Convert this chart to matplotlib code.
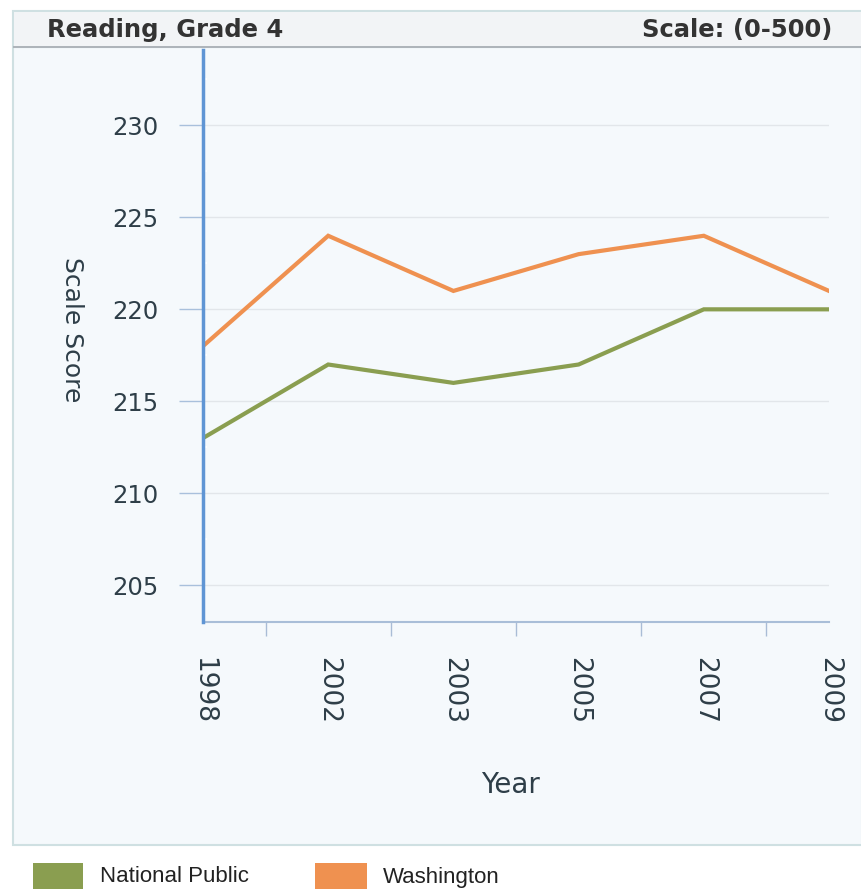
import matplotlib
matplotlib.use("Agg")
import matplotlib.pyplot as plt
from matplotlib.patches import Rectangle
from matplotlib.font_manager import FontProperties, findfont
import numpy as np

years = ["1998", "2002", "2003", "2005", "2007", "2009"]
national_public = [213, 217, 216, 217, 220, 220]
washington = [218, 224, 221, 223, 224, 221]
y_ticks = [205, 210, 215, 220, 225, 230]

W, H = 862, 889
fig = plt.figure(figsize=(W / 100, H / 100), dpi=100)
fig.patch.set_facecolor("white")

def fx(px):
    return px / W

def fy(py):
    return 1 - py / H

# panel background
fig.patches.append(Rectangle((fx(13), fy(845)), fx(862 - 13), (845 - 11) / H,
                             transform=fig.transFigure, facecolor="#F5F9FC",
                             edgecolor="#CFE0E2", linewidth=1.5, zorder=-2))
# header band
fig.patches.append(Rectangle((fx(14), fy(46)), fx(862 - 14), (46 - 12) / H,
                             transform=fig.transFigure, facecolor="#F2F4F6",
                             edgecolor="none", zorder=-1))
fig.add_artist(plt.Line2D([fx(14), 1], [fy(47), fy(47)], transform=fig.transFigure,
                          color="#AEB4BA", linewidth=1.5, zorder=-1))

fig.text(fx(47), fy(30), "Reading, Grade 4", fontsize=17.5, fontweight="bold",
         color="#333333", ha="left", va="center", family="DejaVu Sans")
fig.text(fx(832), fy(30), "Scale: (0-500)", fontsize=17.5, fontweight="bold",
         color="#333333", ha="right", va="center", family="DejaVu Sans")

ax = fig.add_axes([fx(203), fy(622), fx(829 - 203), (622 - 50) / H])
ax.set_facecolor("none")
x = np.arange(len(years))
ax.plot(x, national_public, color="#8A9E50", linewidth=3, solid_joinstyle="miter", zorder=3)
ax.plot(x, washington, color="#EF9150", linewidth=3, solid_joinstyle="miter", zorder=3)
ax.set_xlim(0, len(years) - 1)
ax.set_ylim(203, 234.1)

ax.set_yticks(y_ticks)
ax.set_yticklabels([str(v) for v in y_ticks], fontsize=17.5, color="#2E3E48")
ax.set_yticks([v + 2.5 for v in y_ticks], minor=True)
ax.tick_params(axis="y", which="major", length=17, width=1, color="#A9C0DC", pad=15)
ax.tick_params(axis="y", which="minor", length=3, width=1.5, color="white", direction="in")
ax.grid(axis="y", which="major", color="#E2E6EA", linewidth=1)

ax.set_xticks(x)
ax.set_xticklabels(years, rotation=-90, fontsize=19, color="#2E3E48", va="top", ha="center")
ax.set_xticks(x[:-1] + 0.5, minor=True)
ax.tick_params(axis="x", which="major", length=0, pad=25)
ax.tick_params(axis="x", which="minor", length=10, width=1, color="#A9BCD6")

for s in ["top", "right"]:
    ax.spines[s].set_visible(False)
ax.spines["left"].set_color("#5F95D4")
ax.spines["left"].set_linewidth(2.5)
ax.spines["left"].set_zorder(4)
ax.spines["bottom"].set_color("#A9BED8")
ax.spines["bottom"].set_linewidth(1.5)

fig.text(fx(72), fy(330), "Scale Score", rotation=-90, fontsize=18, color="#2E3E48",
         ha="center", va="center")
fig.text(fx(510), fy(785), "Year", fontsize=20, color="#2E3E48", ha="center", va="center")

# legend
narrow = "Liberation Sans Narrow"
try:
    findfont(FontProperties(family=narrow), fallback_to_default=False)
    lf = narrow
    lsize = 17
except Exception:
    lf = "Liberation Sans"
    lsize = 16
fig.patches.append(Rectangle((fx(33), fy(889)), fx(50), 26 / H, transform=fig.transFigure,
                             facecolor="#8A9E50", edgecolor="none"))
fig.text(fx(100), fy(877), "National Public", fontsize=lsize, color="#222222",
         ha="left", va="center", family=lf)
fig.patches.append(Rectangle((fx(315), fy(889)), fx(52), 26 / H, transform=fig.transFigure,
                             facecolor="#EF9150", edgecolor="none"))
fig.text(fx(383), fy(877), "Washington", fontsize=lsize, color="#222222",
         ha="left", va="center", family=lf)

fig.savefig("out.png", dpi=100)
